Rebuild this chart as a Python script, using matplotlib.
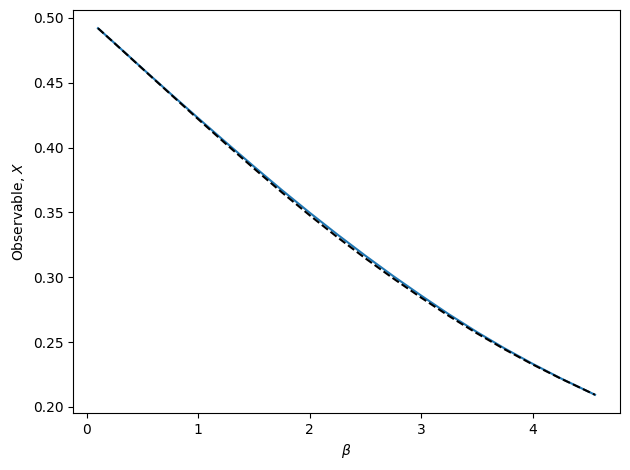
import matplotlib
matplotlib.use("Agg")
import matplotlib.pyplot as plt

beta = [0.1, 0.25, 0.5, 0.75, 1.0, 1.25, 1.5, 1.75, 2.0, 2.25, 2.5, 2.75,
        3.0, 3.25, 3.5, 3.75, 4.0, 4.25, 4.56]

# theory curve (dashed)
x_theory = [0.4920, 0.4803, 0.4607, 0.4412, 0.4218, 0.4026, 0.3838, 0.3654,
            0.3477, 0.3307, 0.3145, 0.2990, 0.2842, 0.2700, 0.2567, 0.2443,
            0.2327, 0.2219, 0.2093]

# measured curve (solid)
x_measured = [0.4920, 0.4804, 0.4609, 0.4416, 0.4226, 0.4038, 0.3853, 0.3672,
              0.3497, 0.3328, 0.3165, 0.3008, 0.2858, 0.2713, 0.2577, 0.2450,
              0.2332, 0.2221, 0.2093]

plt.figure(figsize=(6.3, 4.7), dpi=100)
plt.plot(beta, x_measured, color="C0")
plt.plot(beta, x_theory, "k--")
plt.xlabel(r"$\beta$")
plt.ylabel(r"Observable, $X$")
plt.subplots_adjust(left=0.116, right=0.984, top=0.979, bottom=0.121)
plt.savefig("out.png")
